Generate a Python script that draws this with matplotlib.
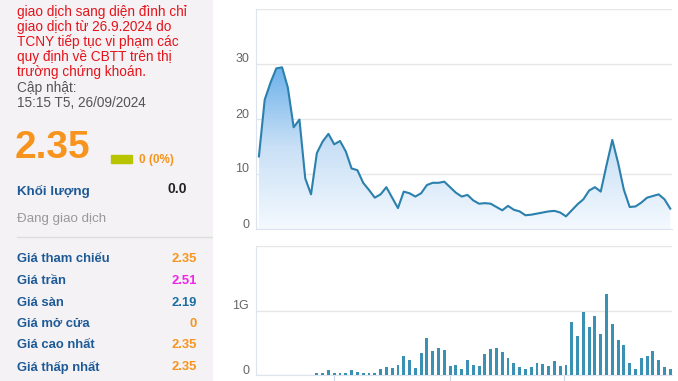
import numpy as np
import matplotlib
matplotlib.use('Agg')
import matplotlib.pyplot as plt
from matplotlib.colors import LinearSegmentedColormap
from matplotlib.transforms import ScaledTranslation

plt.rcParams['font.family'] = ['Liberation Sans', 'DejaVu Sans']

# gia dong cua (nghin dong)
prices = [13.2, 23.5, 26.6, 29.2, 29.4, 25.7, 18.5, 19.9, 9.2, 6.3,
          13.8, 15.9, 17.3, 15.4, 16.0, 14.1, 11.0, 10.7, 8.4, 7.1,
          5.7, 6.3, 7.6, 5.7, 3.8, 6.8, 6.5, 5.9, 6.5, 8.0,
          8.4, 8.4, 8.6, 7.6, 6.6, 5.9, 6.2, 5.2, 4.6, 4.7,
          4.6, 4.0, 3.4, 4.2, 3.5, 3.2, 2.5, 2.6, 2.8, 3.0,
          3.2, 3.3, 3.0, 2.3, 3.4, 4.5, 5.4, 7.0, 7.6, 6.8,
          11.6, 16.2, 12.0, 7.1, 4.0, 4.1, 4.8, 5.7, 6.0, 6.3,
          5.4, 3.7]

# khoi luong (ty co phieu), 10 phien dau khong co
volumes = [0, 0, 0, 0, 0, 0, 0, 0, 0, 0,
           0.03, 0.03, 0.07, 0.03, 0.03, 0.03, 0.07, 0.04, 0.03, 0.03,
           0.03, 0.09, 0.12, 0.11, 0.16, 0.30, 0.24, 0.11, 0.34, 0.57,
           0.37, 0.42, 0.39, 0.14, 0.16, 0.09, 0.23, 0.16, 0.14, 0.32,
           0.40, 0.42, 0.35, 0.26, 0.19, 0.13, 0.09, 0.13, 0.19, 0.17,
           0.14, 0.21, 0.14, 0.16, 0.82, 0.60, 0.97, 0.75, 0.91, 0.64,
           1.26, 0.79, 0.55, 0.47, 0.19, 0.09, 0.27, 0.30, 0.37, 0.23,
           0.13, 0.09]

month_ticks = [12.9, 32.9, 52.6]

price_ticks = [0, 10, 20, 30, 40]
price_labels = ['0', '10', '20', '30', '']
vol_ticks = [0, 1e9, 2e9]
vol_labels = ['0', '1G', '']

notice = ['giao dịch sang diện đình chỉ',
          'giao dịch từ 26.9.2024 do',
          'TCNY tiếp tục vi phạm các',
          'quy định về CBTT trên thị',
          'trường chứng khoán.']
update_lines = ['Cập nhật:', '15:15 T5, 26/09/2024']

row_labels = ['Giá tham chiếu', 'Giá trần', 'Giá sàn', 'Giá mở cửa', 'Giá cao nhất', 'Giá thấp nhất']
row_values = ['2.35', '2.51', '2.19', '0', '2.35', '2.35']
row_colors = ['#f7941d', '#f024e8', '#1b6fa0', '#f7941d', '#f7941d', '#f7941d']

W, H = 678, 381
fig = plt.figure(figsize=(W / 100, H / 100), dpi=100)
fig.patch.set_facecolor('white')


def fx(x):
    return x / W


def fy(y):
    return 1 - y / H


def px_axes(l, t, r, b):
    return fig.add_axes([fx(l), fy(b), (r - l) / W, (b - t) / H])


# panel ben trai
bg = fig.add_axes([0, 0, fx(213), 1])
bg.set_facecolor('#f4f2f4')
bg.set_xticks([]); bg.set_yticks([])
for s in bg.spines.values():
    s.set_visible(False)

red = '#e4141b'
for i, line in enumerate(notice):
    fig.text(fx(17), fy(12 + i * 15), line, color=red, fontsize=9.8, va='center')
for i, line in enumerate(update_lines):
    fig.text(fx(17), fy(88 + i * 15), line, color='#555555', fontsize=9.8, va='center')

fig.text(fx(15), fy(148), '2.35', color='#f7941d', fontsize=28, fontweight='bold', va='center')
bg.add_patch(plt.Rectangle((fx(111) / fx(213), fy(163)), 21 / 213, 8 / H,
                           color='#b9c400', transform=bg.transAxes))
fig.text(fx(139), fy(160), '0 (0%)', color='#f7941d', fontsize=8.5, fontweight='bold', va='center')
fig.text(fx(17), fy(191), 'Khối lượng', color='#1d5a96', fontsize=9.6, fontweight='bold', va='center')
fig.text(fx(187), fy(189), '0.0', color='#222222', fontsize=10, fontweight='bold', va='center', ha='right')
fig.text(fx(17), fy(219), 'Đang giao dịch', color='#999999', fontsize=9.6, va='center')
bg.plot([17 / 213, 1], [fy(237), fy(237)], color='#dddddd', lw=1, transform=bg.transAxes)

for i, (lab, val, col) in enumerate(zip(row_labels, row_values, row_colors)):
    y = 259.5 + i * 21.5
    fig.text(fx(17), fy(y), lab, color='#1d5a96', fontsize=9.4, fontweight='bold', va='center')
    fig.text(fx(197), fy(y), val, color=col, fontsize=9.4, fontweight='bold', va='center', ha='right')

# bieu do gia
x = np.arange(len(prices))
ax1 = px_axes(256, 9, 672, 229)
grad = LinearSegmentedColormap.from_list('g', ['#f4f9fe', '#c9e0f6', '#68afea'])
poly = ax1.fill_between(x, prices, 0, color='none')
img = ax1.imshow(np.linspace(0, 1, 256).reshape(-1, 1), cmap=grad, aspect='auto',
                 extent=[x[0], x[-1], 0, 30], origin='lower', zorder=1)
img.set_clip_path(poly.get_paths()[0], transform=ax1.transData)
ax1.plot(x, prices, color='#2b80ad', lw=1.5, zorder=3)
ax1.set_xlim(-0.5, 71.3)
ax1.set_ylim(0, 40)

# bieu do khoi luong
ax2 = px_axes(256, 246, 672, 375)
ax2.bar(x, [v * 1e9 for v in volumes], width=0.5, color='#3a91b4', zorder=3)
ax2.set_xlim(-0.5, 71.3)
ax2.set_ylim(0, 2e9)

for ax, ticks, labels in [(ax1, price_ticks, price_labels), (ax2, vol_ticks, vol_labels)]:
    ax.set_yticks(ticks)
    ax.set_yticklabels(labels)
    ax.grid(axis='y', color='#e6e6e6', lw=1)
    ax.set_axisbelow(True)
    ax.tick_params(axis='y', length=0, labelcolor='#666666', labelsize=9, pad=5)
    for lab in ax.get_yticklabels():
        lab.set_transform(lab.get_transform() + ScaledTranslation(0, 6 / 100, fig.dpi_scale_trans))
    for s in ['top', 'right']:
        ax.spines[s].set_visible(False)
    ax.spines['left'].set_color('#dde4f0')
    ax.spines['bottom'].set_color('#dde4f0')
    ax.set_facecolor('white')

ax1.set_xticks([])
ax2.set_xticks(month_ticks)
ax2.set_xticklabels([])
ax2.tick_params(axis='x', length=5, color='#ccd6eb')

fig.savefig('out.png', dpi=100)
